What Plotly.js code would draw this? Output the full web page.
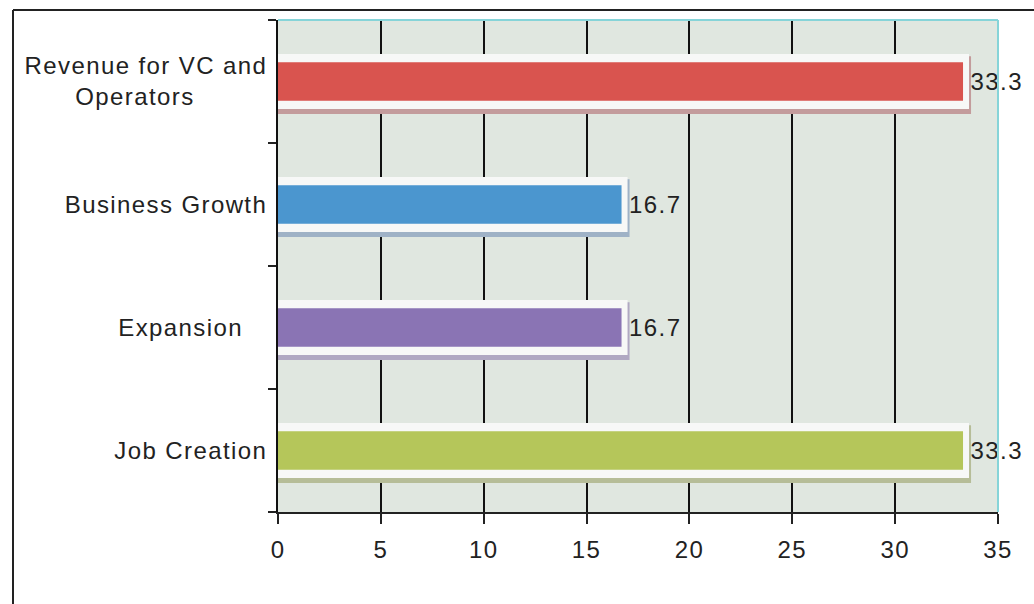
<!DOCTYPE html>
<html>
<head>
<meta charset="utf-8">
<script src="https://cdn.plot.ly/plotly-3.0.1.min.js"></script>
<style>
  html, body { margin: 0; padding: 0; background: #ffffff; }
  #chart { width: 1034px; height: 604px; }
  #chart text { letter-spacing: 1.4px; }
</style>
</head>
<body>
<div id="chart"></div>
<script>
// Data (top to bottom as shown)
var categories = ["Revenue for VC and Operators", "Business Growth", "Expansion", "Job Creation"];
var tickLabels = ["Revenue for VC and<br>Operators\u00a0\u00a0\u00a0\u00a0\u00a0\u00a0\u00a0\u00a0\u00a0", "Business Growth", "Expansion\u00a0\u00a0\u00a0", "Job Creation"];
var values = [33.3, 16.7, 16.7, 33.3];
var valueLabels = ["33.3", "16.7", "16.7", "33.3"];
var barColors = ["#d9544f", "#4b96cf", "#8a74b4", "#b5c65a"];
var shadowColors = ["#c39c9c", "#9fb2c6", "#b0a8c2", "#b6bd98"];
var xTicks = [0, 5, 10, 15, 20, 25, 30, 35];

var FONT = "Liberation Sans, Arial, sans-serif";

var shadow = {
  type: "bar", orientation: "h",
  y: categories, x: values,
  width: 0.34, offset: -0.17 + 0.03,
  marker: { color: shadowColors, line: { color: shadowColors, width: 16 } },
  hoverinfo: "skip", showlegend: false
};
var box = {
  type: "bar", orientation: "h",
  y: categories, x: values,
  width: 0.35,
  marker: { color: "#f7f8f7", line: { color: "#f7f8f7", width: 12 } },
  text: valueLabels, texttemplate: "\u00a0%{text}", textposition: "outside", cliponaxis: false,
  textfont: { family: FONT, size: 24, color: "#222222" },
  hoverinfo: "skip", showlegend: false
};
var bars = {
  type: "bar", orientation: "h",
  y: categories, x: values,
  width: 0.315,
  marker: { color: barColors, line: { width: 0 } },
  hoverinfo: "x+y", showlegend: false
};

var L = 278, R = 36, T = 20, B = 92, W = 1034, H = 604;
var pw = W - L - R, ph = H - T - B;
function px(x) { return (x - L) / pw; }
function py(y) { return (H - B - y) / ph; }

var layout = {
  width: W, height: H,
  margin: { l: L, r: R, t: T, b: B, pad: 0 },
  paper_bgcolor: "#ffffff",
  plot_bgcolor: "#e0e7e0",
  barmode: "overlay",
  font: { family: FONT, size: 24, color: "#222222" },
  xaxis: {
    range: [0, 35],
    tickvals: xTicks,
    ticktext: xTicks.map(String),
    showgrid: true, gridcolor: "#111111", gridwidth: 2,
    zeroline: false,
    showline: true, linecolor: "#222222", linewidth: 2,
    ticks: "outside", ticklen: 10, tickwidth: 2, tickcolor: "#222222",
    tickfont: { family: FONT, size: 24, color: "#222222" },
    ticklabelstandoff: 5,
    fixedrange: true
  },
  yaxis: {
    type: "category",
    categoryorder: "array", categoryarray: categories,
    tickvals: categories, ticktext: tickLabels,
    autorange: "reversed",
    showgrid: false, zeroline: false,
    showline: true, linecolor: "#111111", linewidth: 2,
    ticks: "outside", tickson: "boundaries", ticklen: 8, tickwidth: 2, tickcolor: "#222222",
    tickfont: { family: FONT, size: 24, color: "#222222" },
    ticklabelstandoff: 4,
    fixedrange: true
  },
  shapes: [
    { type: "line", xref: "paper", yref: "paper", x0: 0, x1: 1, y0: 1, y1: 1,
      line: { color: "#86d4d8", width: 2 } },
    { type: "line", xref: "paper", yref: "paper", x0: 1, x1: 1, y0: 0, y1: 1,
      line: { color: "#86d4d8", width: 2 } },
    { type: "line", xref: "paper", yref: "paper", x0: px(13), x1: px(13), y0: py(10), y1: py(620),
      line: { color: "#222222", width: 2 } },
    { type: "line", xref: "paper", yref: "paper", x0: px(13), x1: px(1050), y0: py(10), y1: py(10),
      line: { color: "#222222", width: 2 } }
  ]
};

Plotly.newPlot("chart", [shadow, box, bars], layout, { displayModeBar: false, staticPlot: true });
</script>
</body>
</html>
